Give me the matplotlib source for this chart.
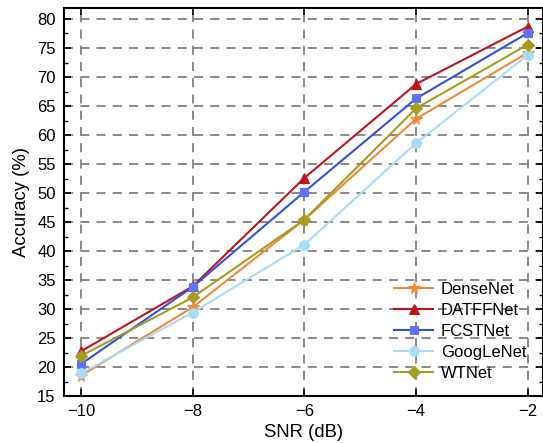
import matplotlib
matplotlib.use("Agg")
import matplotlib.pyplot as plt
from matplotlib.ticker import MultipleLocator

plt.rcParams['font.family'] = ['Liberation Sans', 'DejaVu Sans']

snr = [-10, -8, -6, -4, -2]
densenet = [18.5, 30.3, 45.4, 62.8, 74.2]
datffnet = [22.7, 33.9, 52.6, 68.8, 78.7]
fcstnet = [20.5, 33.8, 50.2, 66.3, 77.6]
googlenet = [18.9, 29.4, 41.1, 58.6, 73.8]
wtnet = [21.9, 32.0, 45.4, 64.6, 75.6]

series = [
    ("DenseNet", densenet, "#F0893A", "#F0893A", "*", 8.5),
    ("DATFFNet", datffnet, "#C0141C", "#C0141C", "^", 7),
    ("FCSTNet", fcstnet, "#3050E8", "#6070F8", "s", 6),
    ("GoogLeNet", googlenet, "#A8DCF4", "#A8DCF4", "o", 7),
    ("WTNet", wtnet, "#A69C1E", "#A69C1E", "D", 6),
]

fig = plt.figure(figsize=(5.43, 4.43), dpi=100)
ax = fig.add_axes([0.118, 0.106, 0.882, 0.876])

for name, vals, lc, mc, mk, ms in series:
    ax.plot(snr, vals, color=lc, marker=mk, markersize=ms, markerfacecolor=mc,
            markeredgecolor=mc, markeredgewidth=0.8, linewidth=1.5, label=name)

ax.set_xlim(-10.3, -1.73)
ax.set_ylim(15, 81.9)
ax.set_xticks([-10, -8, -6, -4, -2])
ax.set_yticks(range(15, 81, 5))
ax.yaxis.set_minor_locator(MultipleLocator(2.5))
ax.tick_params(direction='in', which='both', top=True, right=True, labelsize=12)
ax.tick_params(which='major', length=5, width=1.2, pad=6)
ax.tick_params(which='minor', length=3, width=1.0)
ax.grid(True, which='major', color='#808080', linestyle=(0, (5, 4)), linewidth=1.3)
ax.set_axisbelow(True)
for s in ax.spines.values():
    s.set_linewidth(1.5)
ax.set_xlabel("SNR (dB)", fontsize=13.3, labelpad=3)
ax.set_ylabel("Accuracy (%)", fontsize=13.3, labelpad=5)
ax.legend(loc='lower right', frameon=False, fontsize=12, handlelength=2.3,
          handletextpad=0.5, labelspacing=0.36, bbox_to_anchor=(0.997, 0.0))

fig.savefig("out.png", dpi=100)
